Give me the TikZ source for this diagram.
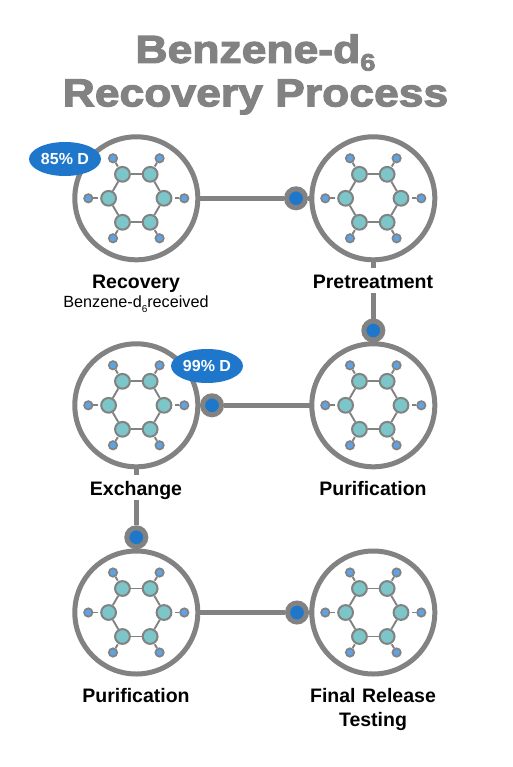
\documentclass[tikz,border=0pt]{standalone}
\usepackage{fontspec}
\usetikzlibrary{shapes.geometric,calc}
\setmainfont{Liberation Sans}
\newfontface\titlefont[FakeBold=3,FakeStretch=1.14]{Liberation Sans Bold}
\definecolor{ringgray}{HTML}{828282}
\definecolor{tealatom}{HTML}{7CC5C8}
\definecolor{hatom}{HTML}{5FA3E2}
\definecolor{dotblue}{HTML}{1F77CC}
\tikzset{
  ring/.style={circle,draw=ringgray,line width=5pt,minimum size=123pt,inner sep=0pt,outer sep=0pt,fill=white},
  catom/.style={circle,draw=ringgray,line width=2pt,fill=tealatom,minimum size=14.8pt,inner sep=0pt},
  hydro/.style={circle,draw=ringgray,line width=1.7pt,fill=hatom,minimum size=8.4pt,inner sep=0pt},
  bond/.style={draw=ringgray,line width=1.9pt},
  link/.style={draw=ringgray,line width=4.7pt},
  joint/.style={circle,draw=ringgray,line width=5pt,fill=dotblue,minimum size=19pt,inner sep=0pt},
  tag/.style={ellipse,fill=dotblue,text=white,font=\fontsize{16}{18}\selectfont\bfseries,minimum width=72pt,minimum height=34pt,inner sep=0pt},
  steplabel/.style={font=\fontsize{19.5}{24}\selectfont\bfseries,text=black,align=center},
  cover/.style={fill=white,text height=20pt,text depth=4.5pt,inner sep=0pt,outer sep=0pt},
  sublabel/.style={font=\fontsize{16.2}{18}\selectfont,text=black},
  titletext/.style={font=\titlefont\fontsize{39}{43.5}\selectfont,text=ringgray,align=center}
}
\newcommand{\molecule}[3]{%
  \node[ring] (#1) at (#2,#3) {};
  \foreach \i/\a/\hx/\hy in {1/120/-23.3/-40,2/60/23.3/-40,3/0/48/0,4/-60/23.3/40,5/-120/-23.3/40,6/180/-48/0}{
    \node[catom] (#1c\i) at ($(#1)+(\a:27.7 and -27.7)$) {};
    \node[hydro] (#1h\i) at ($(#1)+(\hx,\hy)$) {};
    \coordinate (#1s\i) at ($(#1h\i)!9.5pt!(#1c\i)$);
    \draw[bond] (#1h\i) -- (#1s\i);
  }
  \foreach \p/\q in {1/2,2/3,3/4,4/5,5/6,6/1}{
    \draw[bond] (#1c\p) -- (#1c\q);
  }
}
\begin{document}
\begin{tikzpicture}[x=1pt,y=-1pt]
\useasboundingbox (0,0) rectangle (512,767);
\fill[white] (0,0) rectangle (512,767);
\node[titletext] (title) at (255.5,74.5) {Benzene-d\smash{\raisebox{-0.2em}{\fontsize{24}{24}\selectfont 6}}\\Recovery Process};
\molecule{ra}{136.3}{198.3}
\molecule{rb}{373.3}{198.3}
\molecule{rc}{373.3}{405.3}
\molecule{rd}{136.3}{405.3}
\molecule{re}{136.3}{612.5}
\molecule{rf}{373.3}{612.5}
\node[joint] (ja) at (296,198.3) {};
\node[joint] (jb) at (373.3,330.5) {};
\node[joint] (jc) at (212,405.3) {};
\node[joint] (jd) at (136.3,537.3) {};
\node[joint] (je) at (297,612.5) {};
\draw[link] (ra) -- (ja);
\draw[link] (ja) -- (rb);
\draw[link] (rb) -- (jb);
\draw[link] (jc) -- (rc);
\draw[link] (rd) -- (jd);
\draw[link] (re) -- (je);
\draw[link] (je) -- (rf);
\node[steplabel,anchor=base] (la) at (136,288) {Recovery};
\node[sublabel,anchor=base] (lsub) at (136,307.5) {Benzene-d\raisebox{-0.3em}{\fontsize{10}{10}\selectfont 6}received};
\node[steplabel,cover,anchor=base] (lb) at (373,288) {Pretreatment};
\node[steplabel,anchor=base] (lc) at (373,495) {Purification};
\node[steplabel,cover,anchor=base] (ld) at (136,495) {Exchange};
\node[steplabel,anchor=base] (le) at (136,702) {Purification};
\node[steplabel,text width=160pt] (lf) at (373,709) {Final Release\\Testing};
\node[tag] (ta) at (65,159) {85\% D};
\node[tag] (tb) at (207,366) {99\% D};
\end{tikzpicture}
\end{document}
